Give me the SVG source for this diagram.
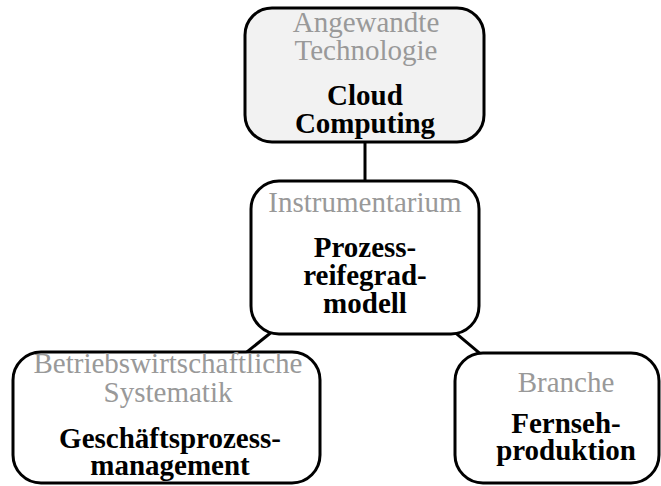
<svg xmlns="http://www.w3.org/2000/svg" width="661" height="486" viewBox="0 0 661 486">
<style>
.box{stroke:#000;stroke-width:3;fill:#fff}
.lbl{font-family:"Liberation Serif","Times New Roman",serif;font-size:29px;fill:#999;text-anchor:middle}
.val{font-family:"Liberation Serif","Times New Roman",serif;font-size:29px;font-weight:bold;fill:#000;text-anchor:middle}
.con{stroke:#000;stroke-width:3;fill:none}
</style>
<rect width="661" height="486" fill="#fff"/>
<g id="connectors">
<line class="con" x1="365" y1="142" x2="365" y2="181"/>
<line class="con" x1="365" y1="257" x2="166" y2="417"/>
<line class="con" x1="365" y1="257" x2="557" y2="418"/>
</g>
<g id="node-technologie">
<rect class="box" x="245" y="8" width="239" height="134" rx="27" style="fill:#f2f2f2"/>
<text class="lbl" x="366" y="32">Angewandte</text>
<text class="lbl" x="366" y="60">Technologie</text>
<text class="val" x="365" y="105">Cloud</text>
<text class="val" x="365" y="133">Computing</text>
</g>
<g id="node-instrumentarium">
<rect class="box" x="251" y="181" width="228" height="153" rx="28"/>
<text class="lbl" x="365" y="212">Instrumentarium</text>
<text class="val" x="365" y="257">Prozess-</text>
<text class="val" x="365" y="285">reifegrad-</text>
<text class="val" x="365" y="313">modell</text>
</g>
<g id="node-systematik">
<rect class="box" x="13" y="352" width="307" height="131" rx="28"/>
<text class="lbl" x="168" y="373">Betriebswirtschaftliche</text>
<text class="lbl" x="168" y="402">Systematik</text>
<text class="val" x="170" y="448">Geschäftsprozess-</text>
<text class="val" x="170" y="475">management</text>
</g>
<g id="node-branche">
<rect class="box" x="455" y="353" width="204" height="130" rx="28"/>
<text class="lbl" x="566" y="392">Branche</text>
<text class="val" x="566" y="433">Fernseh-</text>
<text class="val" x="566" y="460">produktion</text>
</g>
</svg>
